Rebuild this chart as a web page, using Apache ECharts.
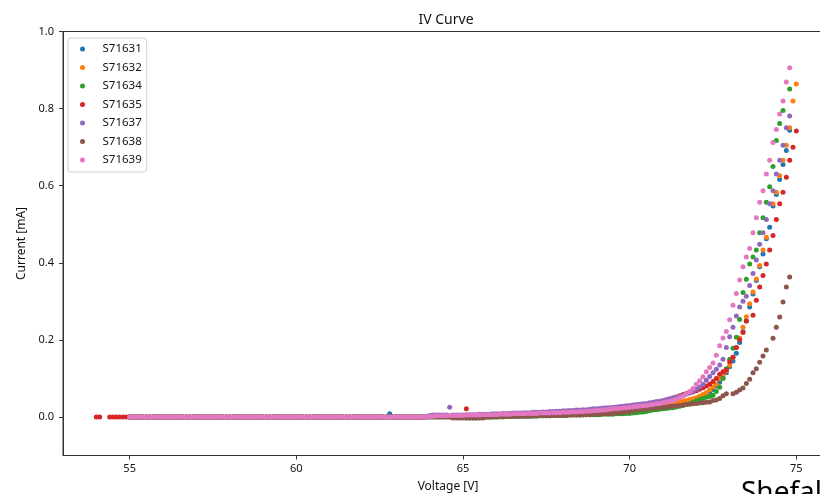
<!DOCTYPE html>
<html>
<head>
<meta charset="utf-8">
<script src="https://cdn.jsdelivr.net/npm/echarts@6/dist/echarts.min.js"></script>
<style>html,body{margin:0;padding:0;background:#fff;}#chart{width:820px;height:494px;}</style>
</head>
<body>
<div id="chart"></div>
<script>
// Voltage sweep [V]
const voltage = [
54.0,54.1,54.2,54.3,54.4,54.5,54.6,54.7,54.8,54.9,
55.0,55.1,55.2,55.3,55.4,55.5,55.6,55.7,55.8,55.9,
56.0,56.1,56.2,56.3,56.4,56.5,56.6,56.7,56.8,56.9,
57.0,57.1,57.2,57.3,57.4,57.5,57.6,57.7,57.8,57.9,
58.0,58.1,58.2,58.3,58.4,58.5,58.6,58.7,58.8,58.9,
59.0,59.1,59.2,59.3,59.4,59.5,59.6,59.7,59.8,59.9,
60.0,60.1,60.2,60.3,60.4,60.5,60.6,60.7,60.8,60.9,
61.0,61.1,61.2,61.3,61.4,61.5,61.6,61.7,61.8,61.9,
62.0,62.1,62.2,62.3,62.4,62.5,62.6,62.7,62.8,62.9,
63.0,63.1,63.2,63.3,63.4,63.5,63.6,63.7,63.8,63.9,
64.0,64.1,64.2,64.3,64.4,64.5,64.6,64.7,64.8,64.9,
65.0,65.1,65.2,65.3,65.4,65.5,65.6,65.7,65.8,65.9,
66.0,66.1,66.2,66.3,66.4,66.5,66.6,66.7,66.8,66.9,
67.0,67.1,67.2,67.3,67.4,67.5,67.6,67.7,67.8,67.9,
68.0,68.1,68.2,68.3,68.4,68.5,68.6,68.7,68.8,68.9,
69.0,69.1,69.2,69.3,69.4,69.5,69.6,69.7,69.8,69.9,
70.0,70.1,70.2,70.3,70.4,70.5,70.6,70.7,70.8,70.9,
71.0,71.1,71.2,71.3,71.4,71.5,71.6,71.7,71.8,71.9,
72.0,72.1,72.2,72.3,72.4,72.5,72.6,72.7,72.8,72.9,
73.0,73.1,73.2,73.3,73.4,73.5,73.6,73.7,73.8,73.9,
74.0,74.1,74.2,74.3,74.4,74.5,74.6,74.7,74.8,74.9,
75.0
];

const seriesNames = ['S71631','S71632','S71634','S71635','S71637','S71638','S71639'];

// Current [mA] per sample (null = no sample)
const s71631 = [
null,null,null,null,null,null,null,null,null,null,
0,0,0,0,0,0,0,0,0,0, 0,0,0,0,0,0,0,0,0,0, 0,0,0,0,0,0,0,0,0,0,
0,0,0,0,0,0,0,0,0,0, 0,0,0,0,0,0,0,0,0,0, 0,0,0,0,0,0,0,0,0,0,
0,0,0,0,0,0,0,0,0,0, 0,0,0,0,0,0,0,0,0.008,0, 0,0,0,0,0,0,0,0,0,0,
0.001,0.001,0.002,0.002,0.002,0.002,0.003,0.003,0.003,0.003,
0.003,0.004,0.004,0.004,0.004,0.005,0.005,0.005,0.005,0.005,
0.006,0.006,0.006,0.006,0.007,0.007,0.007,0.007,0.008,0.008,
0.008,0.008,0.009,0.009,0.009,0.009,0.010,0.010,0.010,0.011,
0.011,0.011,0.011,0.012,0.012,0.012,0.013,0.013,0.013,0.014,
0.014,0.015,0.015,0.016,0.016,0.017,0.017,0.018,0.018,0.019,
0.019,0.020,0.021,0.021,0.022,0.023,0.024,0.025,0.026,0.027,
0.028,0.029,0.030,0.031,0.033,0.034,0.036,0.038,0.040,0.042,
0.045,0.049,0.053,0.058,0.064,0.071,0.080,0.090,0.102,0.115,
0.130,0.145,0.165,0.193,0.222,0.249,0.285,0.319,0.354,0.390,
0.423,0.462,0.492,0.547,0.577,0.616,0.655,0.691,0.744,null,
null
];
const s71632 = [
null,null,null,null,null,null,null,null,null,null,
0,0,0,0,0,0,0,0,0,0, 0,0,0,0,0,0,0,0,0,0, 0,0,0,0,0,0,0,0,0,0,
0,0,0,0,0,0,0,0,0,0, 0,0,0,0,0,0,0,0,0,0, 0,0,0,0,0,0,0,0,0,0,
0,0,0,0,0,0,0,0,0,0, 0,0,0,0,0,0,0,0,0,0, 0,0,0,0,0,0,0,0,0,0,
0.001,0.001,0.001,0.002,0.002,0.002,0.002,0.003,0.003,0.003,
0.003,0.003,0.004,0.004,0.004,0.004,0.005,0.005,0.005,0.005,
0.005,0.006,0.006,0.006,0.006,0.007,0.007,0.007,0.007,0.008,
0.008,0.008,0.008,0.009,0.009,0.009,0.010,0.010,0.010,0.011,
0.011,0.011,0.012,0.012,0.012,0.013,0.013,0.014,0.014,0.015,
0.015,0.016,0.016,0.017,0.017,0.018,0.019,0.019,0.020,0.021,
0.021,0.022,0.023,0.024,0.025,0.026,0.027,0.028,0.029,0.030,
0.031,0.033,0.034,0.035,0.037,0.039,0.041,0.043,0.045,0.047,
0.050,0.054,0.058,0.063,0.070,0.078,0.085,0.100,0.110,0.120,
0.135,0.155,0.180,0.205,0.233,0.260,0.294,0.324,0.358,0.393,
0.433,0.466,null,0.553,0.583,0.626,0.666,0.705,0.750,0.820,
0.864
];
const s71634 = [
null,null,null,null,null,null,null,null,null,null,
0,0,0,0,0,0,0,0,0,0, 0,0,0,0,0,0,0,0,0,0, 0,0,0,0,0,0,0,0,0,0,
0,0,0,0,0,0,0,0,0,0, 0,0,0,0,0,0,0,0,0,0, 0,0,0,0,0,0,0,0,0,0,
0,0,0,0,0,0,0,0,0,0, 0,0,0,0,0,0,0,0,0,0, 0,0,0,0,0,0,0,0,0,0,
0,0,0,0,0,0,0,-0.001,-0.001,-0.002,
-0.002,-0.003,-0.003,-0.003,-0.003,-0.002,-0.002,-0.001,-0.001,0,
0,0,0,0.001,0.001,0.001,0.001,0.001,0.002,0.002,
0.002,0.002,0.002,0.003,0.003,0.003,0.003,0.004,0.004,0.004,
0.004,0.004,0.005,0.005,0.005,0.005,0.005,0.006,0.006,0.006,
0.006,0.006,0.007,0.007,0.007,0.007,0.008,0.008,0.008,0.009,
0.009,0.010,0.011,0.012,0.013,0.014,0.016,0.018,0.019,0.020,
0.021,0.022,0.023,0.024,0.026,0.028,0.030,0.032,0.034,0.038,
0.042,0.045,0.048,0.051,0.053,0.056,0.066,0.077,0.100,0.125,
0.150,0.178,0.207,0.253,0.323,0.357,0.397,0.415,0.433,0.478,
0.517,0.557,0.597,0.650,0.717,0.761,0.795,null,0.851,null,
null
];
const s71635 = [
0,0,null,null,0,0,0,0,0,0,
0,0,0,0,0,0,0,0,0,0, 0,0,0,0,0,0,0,0,0,0, 0,0,0,0,0,0,0,0,0,0,
0,0,0,0,0,0,0,0,0,0, 0,0,0,0,0,0,0,0,0,0, 0,0,0,0,0,0,0,0,0,0,
0,0,0,0,0,0,0,0,0,0, 0,0,0,0,0,0,0,0,0,0, 0,0,0,0,0,0,0,0,0,0,
0.001,0.001,0.001,0.002,0.002,0.002,0.002,0.002,0.003,0.003,
0.003,0.021,0.003,0.004,0.004,0.004,0.004,0.005,0.005,0.005,
0.006,0.006,0.006,0.007,0.007,0.007,0.008,0.008,0.008,0.009,
0.009,0.009,0.010,0.010,0.011,0.011,0.011,0.012,0.012,0.013,
0.013,0.014,0.014,0.015,0.015,0.016,0.016,0.017,0.017,0.018,
0.018,0.019,0.019,0.020,0.020,0.021,0.022,0.022,0.023,0.024,
0.025,0.026,0.027,0.028,0.029,0.030,0.032,0.033,0.035,0.037,
0.040,0.043,0.046,0.049,0.052,0.055,0.058,0.061,0.063,0.065,
0.068,0.072,0.076,0.080,0.085,0.092,0.100,0.111,0.117,0.122,
0.143,0.155,0.180,0.200,0.219,0.249,null,0.264,0.303,0.337,
0.367,0.397,0.433,0.471,0.512,0.553,0.583,0.622,0.666,0.700,
0.742
];
const s71637 = [
null,null,null,null,null,null,null,null,null,null,
0,0,0,0,0,0,0,0,0,0, 0,0,0,0,0,0,0,0,0,0, 0,0,0,0,0,0,0,0,0,0,
0,0,0,0,0,0,0,0,0,0, 0,0,0,0,0,0,0,0,0,0, 0,0,0,0,0,0,0,0,0,0,
0,0,0,0,0,0,0,0,0,0, 0,0,0,0,0,0,0,0,0,0, 0,0,0,0,0,0,0,0,0,0,
0.004,0.005,0.005,0.005,0.005,0.005,0.025,0.005,0.005,0.005,
0.005,0.006,0.006,0.006,0.006,0.007,0.007,0.007,0.007,0.008,
0.008,0.008,0.009,0.009,0.009,0.010,0.010,0.010,0.011,0.011,
0.011,0.012,0.012,0.012,0.013,0.013,0.014,0.014,0.015,0.015,
0.016,0.016,0.017,0.017,0.018,0.018,0.019,0.019,0.020,0.021,
0.021,0.022,0.023,0.024,0.024,0.025,0.026,0.027,0.028,0.029,
0.030,0.031,0.032,0.033,0.034,0.035,0.037,0.038,0.040,0.041,
0.043,0.045,0.047,0.049,0.051,0.053,0.056,0.059,0.062,0.066,
0.072,0.078,0.085,0.095,0.105,0.115,0.124,0.135,0.150,0.180,
0.208,0.233,0.262,0.285,0.300,0.313,0.341,0.372,0.407,0.448,
0.478,0.512,0.553,0.587,0.630,0.666,0.705,0.750,0.781,null,
null
];
const s71638 = [
null,null,null,null,null,null,null,null,null,null,
0,0,0,0,0,0,0,0,0,0, 0,0,0,0,0,0,0,0,0,0, 0,0,0,0,0,0,0,0,0,0,
0,0,0,0,0,0,0,0,0,0, 0,0,0,0,0,0,0,0,0,0, 0,0,0,0,0,0,0,0,0,0,
0,0,0,0,0,0,0,0,0,0, 0,0,0,0,0,0,0,0,0,0, 0,0,0,0,0,0,0,0,0,0,
0,0,0,0,0,0,0,-0.003,-0.003,-0.003,
-0.003,-0.003,-0.003,-0.003,-0.003,-0.003,-0.003,0,0,0,
0,0.001,0.001,0.001,0.001,0.001,0.002,0.002,0.002,0.002,
0.002,0.003,0.003,0.003,0.003,0.003,0.003,0.004,0.004,0.004,
0.004,0.004,0.005,0.005,0.005,0.005,0.006,0.006,0.006,0.007,
0.007,0.007,0.008,0.008,0.009,0.009,0.010,0.011,0.012,0.013,
0.014,0.016,0.018,0.019,0.020,0.020,0.021,0.022,0.023,0.024,
0.025,0.026,0.027,0.028,0.029,0.030,0.031,0.032,0.033,0.034,
0.035,0.036,0.037,0.038,0.039,0.043,0.044,0.048,0.055,0.060,
null,0.060,0.064,0.070,0.075,0.087,0.098,0.115,0.125,0.142,
0.158,0.174,null,0.204,0.233,0.259,0.298,0.337,0.363,null,
null
];
const s71639 = [
null,null,null,null,null,null,null,null,null,null,
0,0,0,0,0,0,0,0,0,0, 0,0,0,0,0,0,0,0,0,0, 0,0,0,0,0,0,0,0,0,0,
0,0,0,0,0,0,0,0,0,0, 0,0,0,0,0,0,0,0,0,0, 0,0,0,0,0,0,0,0,0,0,
0,0,0,0,0,0,0,0,0,0, 0,0,0,0,0,0,0,0,0,0, 0,0,0,0,0,0,0,0,0,0,
0.002,0.002,0.003,0.003,0.003,0.003,0.004,0.004,0.004,0.004,
0.004,0.005,0.005,0.005,0.005,0.005,0.006,0.006,0.006,0.006,
0.006,0.007,0.007,0.007,0.007,0.008,0.008,0.008,0.008,0.009,
0.009,0.009,0.009,0.010,0.010,0.010,0.010,0.011,0.011,0.011,
0.012,0.012,0.012,0.013,0.013,0.014,0.014,0.015,0.015,0.016,
0.017,0.017,0.018,0.019,0.020,0.021,0.022,0.022,0.023,0.024,
0.025,0.026,0.027,0.028,0.029,0.030,0.031,0.032,0.034,0.035,
0.037,0.039,0.041,0.043,0.046,0.050,0.054,0.060,0.066,0.074,
0.085,0.094,0.104,0.117,0.128,0.140,0.160,0.185,0.205,0.222,
0.252,0.290,0.320,0.355,0.390,0.415,0.437,0.478,0.517,0.557,
0.587,0.630,0.666,0.712,0.746,0.786,0.820,0.869,0.906,null,
null
];

const currents = [s71631, s71632, s71634, s71635, s71637, s71638, s71639];
const xTicks = [55, 60, 65, 70, 75];
const yTicks = [0.0, 0.2, 0.4, 0.6, 0.8, 1.0];

const colors = ['#1f77b4','#ff7f0e','#2ca02c','#d62728','#9467bd','#8c564b','#e377c2'];
const FONT = 'Noto Sans';

const chart = echarts.init(document.getElementById('chart'), null, {renderer: 'canvas'});

const series = seriesNames.map((name, k) => ({
  type: 'scatter',
  name: name,
  data: voltage.map((v, i) => [v, currents[k][i]]).filter(p => p[1] !== null),
  symbol: 'circle',
  symbolSize: 5,
  itemStyle: {color: colors[k], opacity: 1},
  emphasis: {disabled: true},
  z: 2 + k
}));

chart.setOption({
  animation: false,
  backgroundColor: '#ffffff',
  textStyle: {fontFamily: FONT},
  title: {
    text: 'IV Curve',
    left: 446,
    top: 13,
    padding: 0,
    textAlign: 'center',
    textStyle: {fontFamily: FONT, fontSize: 14, fontWeight: 'normal', color: '#111'}
  },
  legend: {
    orient: 'vertical',
    left: 68,
    top: 38,
    padding: [4, 5, 5, 12],
    itemGap: 4.5,
    itemWidth: 5,
    itemHeight: 5,
    icon: 'circle',
    selectedMode: false,
    backgroundColor: 'rgba(255,255,255,0.8)',
    borderColor: '#d0d0d0',
    borderWidth: 1,
    borderRadius: 3,
    textStyle: {fontFamily: FONT, fontSize: 11.5, color: '#111', lineHeight: 14, padding: [0, 0, 0, 12.5]},
    data: seriesNames
  },
  grid: {
    left: 63,
    top: 31.5,
    width: 770,
    height: 424,
    show: true,
    borderColor: '#333',
    borderWidth: 1,
    backgroundColor: 'transparent',
    containLabel: false,
    outerBoundsMode: 'none'
  },
  xAxis: {
    type: 'value',
    min: 53,
    max: 76.1,
    name: 'Voltage [V]',
    nameLocation: 'middle',
    nameGap: 25,
    nameTextStyle: {fontFamily: FONT, fontSize: 12, color: '#111'},
    axisLine: {show: true, onZero: false, lineStyle: {color: '#333', width: 1}},
    axisTick: {show: true, inside: false, length: 4, customValues: xTicks, lineStyle: {color: '#333'}},
    axisLabel: {customValues: xTicks, margin: 8, fontFamily: FONT, fontSize: 11, color: '#111',
      formatter: v => String(Math.round(v))},
    splitLine: {show: false}
  },
  yAxis: {
    type: 'value',
    min: -0.1,
    max: 1.0,
    name: 'Current [mA]',
    nameLocation: 'middle',
    nameGap: 21,
    nameTextStyle: {fontFamily: FONT, fontSize: 12, color: '#111'},
    axisLine: {show: true, onZero: false, lineStyle: {color: '#333', width: 1}},
    axisTick: {show: true, inside: false, length: 4, customValues: yTicks, lineStyle: {color: '#333'}},
    axisLabel: {customValues: yTicks, margin: 9, fontFamily: FONT, fontSize: 11, color: '#111',
      formatter: v => v.toFixed(1)},
    splitLine: {show: false}
  },
  graphic: [{
    type: 'text',
    left: 741,
    top: 479,
    silent: true,
    style: {text: 'Shefali', fontFamily: FONT, fontSize: 28, fill: '#000'}
  }],
  series: series
});
</script>
</body>
</html>
